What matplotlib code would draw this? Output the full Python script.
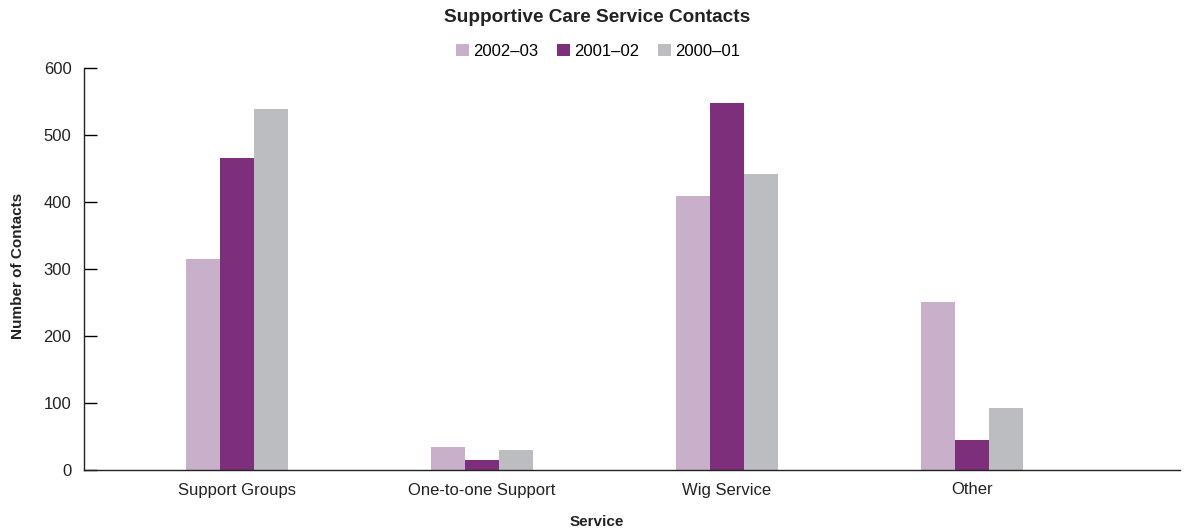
import matplotlib
matplotlib.use("Agg")
import matplotlib.pyplot as plt
import numpy as np

categories = ["Support Groups", "One-to-one Support", "Wig Service", "Other"]
series_names = ["2002\u201303", "2001\u201302", "2000\u201301"]
v2002_03 = [315, 34, 409, 251]
v2001_02 = [466, 15, 548, 45]
v2000_01 = [539, 30, 442, 93]
colors = ["#C9B0CA", "#7D2F7C", "#BCBDC1"]

plt.rcParams['font.family'] = ['Liberation Sans', 'DejaVu Sans']

fig = plt.figure(figsize=(11.95, 5.30), dpi=100)
ax = fig.add_axes([84/1195, 60/530, (1180-84)/1195, (470-68)/530])

x = np.arange(len(categories))
w = 0.139
for i, (vals, name, c) in enumerate(zip([v2002_03, v2001_02, v2000_01], series_names, colors)):
    ax.bar(x + (i - 1) * w, vals, width=w, color=c, label=name, linewidth=0)

ax.set_xlim(-0.625, 3.85)
ax.set_ylim(0, 600)
ax.set_yticks([0, 100, 200, 300, 400, 500, 600])
ax.set_xticks(x)
ax.set_xticklabels(categories, fontsize=12, color="#222222")
ax.tick_params(axis='x', length=0, pad=9)
ax.tick_params(axis='y', direction='in', length=9.5, width=1, labelsize=12, labelcolor="#222222", pad=9)
for s in ['top', 'right']:
    ax.spines[s].set_visible(False)
for s in ['left', 'bottom']:
    ax.spines[s].set_linewidth(1)
    ax.spines[s].set_color("#222222")

ax.set_ylabel("Number of Contacts", fontsize=11, fontweight='bold', color="#222222")
ax.yaxis.set_label_coords((18 - 84) / 1096, (470 - 266) / 402)
ax.set_xlabel("Service", fontsize=11, fontweight='bold', color="#222222")
ax.xaxis.set_label_coords((597 - 84) / 1096, (470 - 522) / 402)
ax.xaxis.label.set_va('center')
ax.yaxis.label.set_va('center')
fig.text(0.5, 1 - 18/530, "Supportive Care Service Contacts", ha='center', va='center',
         fontsize=13.7, fontweight='bold', color="#222222")
fig.legend(loc='center', bbox_to_anchor=(598/1195, 1 - 51/530), ncol=3, frameon=False,
           fontsize=12, handlelength=0.75, handleheight=0.75, handletextpad=0.25, columnspacing=1.15)

fig.savefig("out.png", dpi=100)
